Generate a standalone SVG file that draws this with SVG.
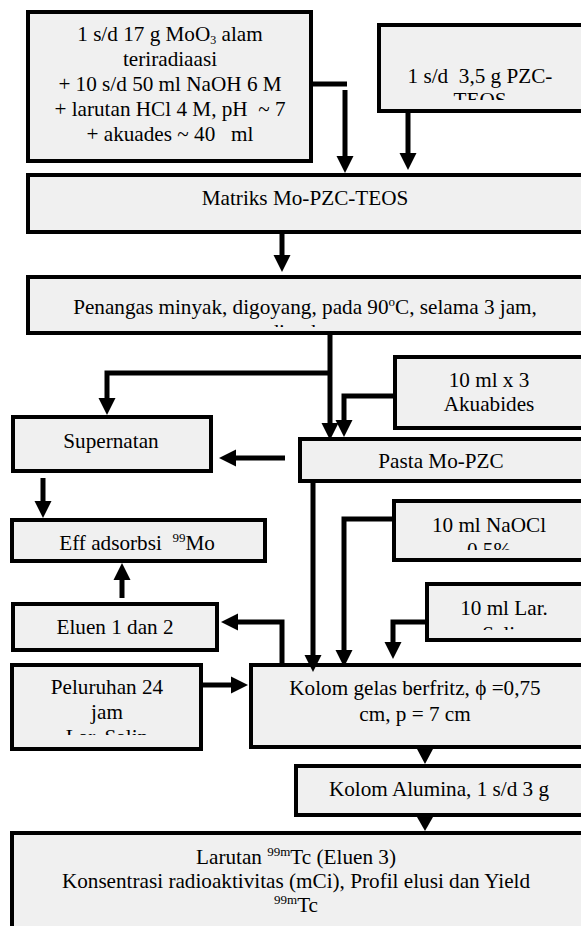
<svg xmlns="http://www.w3.org/2000/svg" width="581" height="926" viewBox="0 0 581 926">
<style>
.box{fill:#f0f0f0;stroke:#000;stroke-width:4}
text{font-family:"Liberation Serif","Times New Roman",serif;font-size:21.2px;fill:#000;text-anchor:middle;white-space:pre}
.sup{font-size:13px}
.sub{font-size:12px}
.con{fill:none;stroke:#000;stroke-width:5;stroke-linejoin:miter}
.arr{marker-end:url(#ah)}
</style>
<defs>
<marker id="ah" markerUnits="userSpaceOnUse" markerWidth="20" markerHeight="20" viewBox="0 -10 20 20" refX="0" refY="0" orient="auto">
<path d="M0,-8.5 L17,0 L0,8.5 z" fill="#000"/>
</marker>
<clipPath id="k2"><rect x="380" y="26" width="220" height="74"/></clipPath>
<clipPath id="k4"><rect x="30" y="279" width="570" height="48"/></clipPath>
<clipPath id="k8"><rect x="396" y="503" width="200" height="47"/></clipPath>
<clipPath id="k10"><rect x="429" y="586" width="200" height="44"/></clipPath>
<clipPath id="k12"><rect x="14" y="667" width="185" height="68"/></clipPath>
</defs>
<rect width="581" height="926" fill="#fff"/>

<g id="n1">
<rect class="box" x="28" y="12" width="283" height="149"/>
<text x="170" y="41">1 s/d 17 g MoO<tspan class="sub" dy="3">3</tspan><tspan dy="-3"> alam</tspan></text>
<text x="170" y="66">teriradiaasi</text>
<text x="170" y="91">+ 10 s/d 50 ml NaOH 6 M</text>
<text x="170" y="116">+ larutan HCl 4 M, pH  ~ 7</text>
<text x="170" y="141">+ akuades ~ 40   ml</text>
</g>

<g id="n2">
<rect class="box" x="379" y="25" width="230" height="86"/>
<g clip-path="url(#k2)">
<text x="480" y="83">1 s/d  3,5 g PZC-</text>
<text x="480" y="107">TEOS</text>
</g>
</g>

<g id="n3">
<rect class="box" x="28" y="175" width="580" height="57"/>
<text x="305" y="205">Matriks Mo-PZC-TEOS</text>
</g>

<g id="n4">
<rect class="box" x="28" y="277" width="580" height="56"/>
<g clip-path="url(#k4)">
<text x="305" y="314">Penangas minyak, digoyang, pada 90<tspan class="sup" dy="-8">o</tspan><tspan dy="8">C, selama 3 jam,</tspan></text>
<text x="305" y="338.5">diamkan</text>
</g>
</g>

<g id="n5">
<rect class="box" x="13" y="417" width="198" height="54"/>
<text x="111" y="448">Supernatan</text>
</g>

<g id="n6">
<rect class="box" x="395" y="357" width="200" height="71"/>
<text x="489" y="387">10 ml x 3</text>
<text x="489" y="411">Akuabides</text>
</g>

<g id="n7">
<rect class="box" x="300" y="439" width="300" height="42"/>
<text x="441" y="468">Pasta Mo-PZC</text>
</g>

<g id="n8">
<rect class="box" x="394" y="501" width="200" height="59"/>
<g clip-path="url(#k8)">
<text x="489" y="532">10 ml NaOCl</text>
<text x="489" y="557">0,5%</text>
</g>
</g>

<g id="n9">
<rect class="box" x="12" y="520" width="253" height="41"/>
<text x="137" y="550">Eff adsorbsi  <tspan class="sup" dy="-8">99</tspan><tspan dy="8">Mo</tspan></text>
</g>

<g id="n10">
<rect class="box" x="427" y="584" width="200" height="56"/>
<g clip-path="url(#k10)">
<text x="504" y="615">10 ml Lar.</text>
<text x="504" y="641">Salin</text>
</g>
</g>

<g id="n11">
<rect class="box" x="13" y="604" width="204" height="46"/>
<text x="115" y="634">Eluen 1 dan 2</text>
</g>

<g id="n12">
<rect class="box" x="12" y="665" width="189" height="84"/>
<g clip-path="url(#k12)">
<text x="107" y="694">Peluruhan 24</text>
<text x="107" y="719">jam</text>
<text x="107" y="744">Lar. Salin</text>
</g>
</g>

<g id="n13">
<rect class="box" x="251" y="665" width="350" height="82"/>
<text x="415" y="695">Kolom gelas berfritz, ϕ =0,75</text>
<text x="415" y="721">cm, p = 7 cm</text>
</g>

<g id="n14">
<rect class="box" x="296" y="766" width="300" height="49"/>
<text x="439" y="796">Kolom Alumina, 1 s/d 3 g</text>
</g>

<g id="n15">
<rect class="box" x="12" y="833" width="600" height="120"/>
<text x="296" y="864">Larutan <tspan class="sup" dy="-8">99m</tspan><tspan dy="8">Tc (Eluen 3)</tspan></text>
<text x="296" y="888">Konsentrasi radioaktivitas (mCi), Profil elusi dan Yield</text>
<text x="296" y="912"><tspan class="sup" dy="-8">99m</tspan><tspan dy="8">Tc</tspan></text>
</g>

<g id="connectors">
<path class="con" d="M311,84 H347"/>
<path class="con arr" d="M345,90 V156"/>
<path class="con arr" d="M408,110 V153"/>
<path class="con arr" d="M282,232 V255"/>
<path class="con arr" d="M330,335 V423"/>
<path class="con arr" d="M330,373 H107 V398"/>
<path class="con arr" d="M393,396 H344 V420"/>
<path class="con arr" d="M285,458 H236"/>
<path class="con arr" d="M43,478 V501"/>
<path class="con arr" d="M313,481 V655"/>
<path class="con arr" d="M392,519 H344 V650"/>
<path class="con arr" d="M425,622 H393 V642"/>
<path class="con arr" d="M282,667 V622 H238"/>
<path class="con arr" d="M122,598 V580"/>
<path class="con arr" d="M201,685 H231"/>
<polygon points="417,749 433,749 425,764" fill="#000"/>
<polygon points="417,817 433,817 425,831" fill="#000"/>
</g>
</svg>
